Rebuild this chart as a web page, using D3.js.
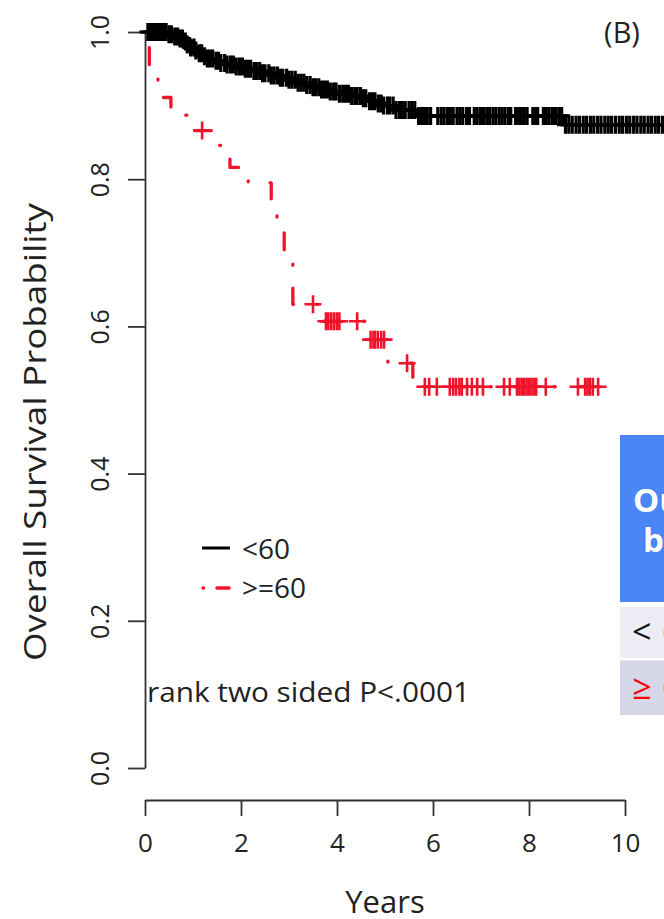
<!DOCTYPE html>
<html>
<head>
<meta charset="utf-8">
<script src="https://cdn.jsdelivr.net/npm/d3@7/dist/d3.min.js"></script>
<style>
  body { margin: 0; background: #fff; }
  svg { display: block; }
  text { font-family: "Open Sans", "Noto Sans", sans-serif; }
</style>
</head>
<body>
<script>
// Kaplan-Meier overall survival, split by age at diagnosis
const groupLabels = ["<60", ">=60"];

// <60 group: event times (years) and survival after each event
const youngTimes = [0.45, 0.62, 0.72, 0.8, 0.88, 0.95, 1.03, 1.12, 1.2, 1.3, 1.42, 1.55, 1.68, 1.85,
  2.05, 2.25, 2.45, 2.62, 2.8, 2.98, 3.15, 3.32, 3.5, 3.66, 3.84, 4.02, 4.3, 4.55, 4.68, 4.82,
  4.95, 5.18, 5.65, 8.7];
const youngSurv = [0.997, 0.994, 0.991, 0.987, 0.983, 0.979, 0.975, 0.971, 0.967, 0.964, 0.961,
  0.958, 0.956, 0.953, 0.950, 0.947, 0.944, 0.941, 0.938, 0.935, 0.931, 0.928, 0.925, 0.922,
  0.919, 0.916, 0.913, 0.910, 0.906, 0.903, 0.900, 0.894, 0.886, 0.874];
// <60 group: censoring times (years)
const youngCensor = [0.06, 0.1, 0.14, 0.19, 0.23, 0.27, 0.31, 0.36, 0.4, 0.44, 0.5, 0.55, 0.62,
  0.68, 0.73, 0.78, 0.84, 0.88, 0.95, 1.02, 1.06, 1.13, 1.18, 1.24, 1.3, 1.35, 1.41, 1.48, 1.53,
  1.58, 1.66, 1.71, 1.78, 1.84, 1.9, 1.97, 2.03, 2.09, 2.14, 2.2, 2.27, 2.32, 2.39, 2.45, 2.5,
  2.58, 2.63, 2.69, 2.76, 2.82, 2.87, 2.95, 3.0, 3.06, 3.13, 3.19, 3.25, 3.31, 3.37, 3.44, 3.5,
  3.55, 3.62, 3.68, 3.74, 3.8, 3.86, 3.93, 3.98, 4.05, 4.12, 4.18, 4.24, 4.3, 4.37, 4.42, 4.49,
  4.55, 4.6, 4.68, 4.74, 4.79, 4.86, 4.92, 4.97, 5.05, 5.1, 5.17, 5.23, 5.3, 5.36, 5.42, 5.5,
  5.56, 5.62, 5.7, 5.76, 5.82, 5.88, 5.95, 6.1, 6.17, 6.23, 6.3, 6.36, 6.42, 6.5, 6.56, 6.62,
  6.7, 6.76, 6.86, 6.92, 6.99, 7.05, 7.12, 7.18, 7.25, 7.31, 7.38, 7.44, 7.5, 7.57, 7.62, 7.72,
  7.78, 7.84, 7.9, 7.96, 8.08, 8.14, 8.18, 8.3, 8.36, 8.42, 8.49, 8.55, 8.62, 8.68, 8.76, 8.83,
  8.9, 8.98, 9.05, 9.13, 9.2, 9.28, 9.35, 9.43, 9.5, 9.58, 9.65, 9.72, 9.8, 9.88, 9.95, 10.03,
  10.1, 10.18, 10.25, 10.33, 10.4, 10.48, 10.55, 10.63, 10.7, 10.78];
const youngEnd = 10.85;

// >=60 group: event times (years) and survival after each event
const oldTimes = [0.09, 0.27, 0.33, 0.54, 0.83, 1.0, 1.52, 1.77, 2.15, 2.63, 2.75, 2.9, 3.08,
  3.67, 4.65, 5.06, 5.58];
const oldSurv = [0.946, 0.933, 0.911, 0.895, 0.887, 0.866, 0.846, 0.816, 0.795, 0.755, 0.747,
  0.690, 0.630, 0.607, 0.582, 0.550, 0.518];
// >=60 group: censoring times (years)
const oldCensor = [1.19, 3.5, 3.77, 3.82, 3.88, 3.94, 4.0, 4.05, 4.42, 4.7, 4.76, 4.79, 4.85,
  4.92, 4.98, 5.46, 5.83, 5.92, 6.08, 6.35, 6.42, 6.48, 6.55, 6.6, 6.71, 6.81, 6.92, 7.04, 7.48,
  7.6, 7.75, 7.8, 7.85, 7.9, 7.95, 8.0, 8.05, 8.1, 8.15, 8.35, 9.02, 9.17, 9.22, 9.27, 9.33, 9.44];
const oldEnd = 9.65;

const xTicks = [0, 2, 4, 6, 8, 10];
const yTicks = [0, 0.2, 0.4, 0.6, 0.8, 1.0];
const pPrefix = "Log-";
const pValueText = "rank two sided P<.0001";
const tableHeader = ["Outcome", "by age"];
const tableSigns = ["<", "\u2265"];
const tableAges = ["60 years", "60 years"];

const W = 664, H = 919;
const svg = d3.select("body").append("svg").attr("width", W).attr("height", H);

const x = d3.scaleLinear().domain([0, 10]).range([145, 625]);
const y = d3.scaleLinear().domain([0, 1]).range([768, 32]);

// Survival value in force at time t
function survAt(times, surv, t) {
  const i = d3.bisectRight(times, t);
  return i === 0 ? 1 : surv[i - 1];
}
function stepPoints(times, surv, end) {
  const pts = [[0, 1]];
  times.forEach((t, i) => pts.push([t, surv[i]]));
  pts.push([end, surv[surv.length - 1]]);
  return pts;
}
const line = d3.line().x(d => x(d[0])).y(d => y(d[1])).curve(d3.curveStepAfter);
const plus = "M-8.5,0H8.5M0,-9V9";

const red = "#f0142a";

// ---- axes ----
const yAxis = d3.axisLeft(y).tickValues(yTicks).tickSize(17).tickSizeOuter(0)
  .tickFormat(d3.format(".1f"));
const gy = svg.append("g").attr("transform", "translate(145,0)").call(yAxis);
gy.selectAll("path, line").attr("stroke", "#333").attr("stroke-width", 1.8);
gy.selectAll("text")
  .attr("x", 0).attr("y", 0).attr("dy", null)
  .attr("text-anchor", "middle")
  .attr("transform", "translate(-36,0) rotate(-90)")
  .attr("font-size", 25).attr("fill", "#222")
  .style("font-family", "'Open Sans', sans-serif");

const xAxis = d3.axisBottom(x).tickValues(xTicks).tickSize(16).tickSizeOuter(0)
  .tickFormat(d3.format("d"));
const gx = svg.append("g").attr("transform", "translate(0,800)").call(xAxis);
gx.selectAll("path, line").attr("stroke", "#333").attr("stroke-width", 1.8);
gx.selectAll("text").attr("y", 52).attr("dy", null)
  .attr("font-size", 26).attr("fill", "#222")
  .style("font-family", "'Open Sans', sans-serif");

svg.append("text").attr("x", 385).attr("y", 913).attr("text-anchor", "middle")
  .attr("font-size", 31).attr("fill", "#222").text("Years");

svg.append("text")
  .attr("transform", "translate(46,432) rotate(-90)")
  .attr("text-anchor", "middle").attr("font-size", 31).attr("fill", "#222")
  .attr("textLength", 458).attr("lengthAdjust", "spacingAndGlyphs")
  .text("Overall Survival Probability");

// ---- curves ----
const oldPts = stepPoints(oldTimes, oldSurv, oldEnd);
svg.append("path").attr("d", line(oldPts))
  .attr("fill", "none").attr("stroke", red).attr("stroke-width", 3.3)
  .attr("stroke-linecap", "round").attr("stroke-linejoin", "round")
  .attr("stroke-dasharray", "1,23,17,23").attr("stroke-dashoffset", 4);
svg.append("g").selectAll("path").data(oldCensor).join("path")
  .attr("transform", d => `translate(${x(d)},${y(survAt(oldTimes, oldSurv, d))})`)
  .attr("d", plus).attr("stroke", red).attr("stroke-width", 2.6).attr("fill", "none");

const youngPts = stepPoints(youngTimes, youngSurv, youngEnd);
svg.append("path").attr("d", line(youngPts))
  .attr("fill", "none").attr("stroke", "#000").attr("stroke-width", 3.2);
svg.append("g").selectAll("path").data(youngCensor).join("path")
  .attr("transform", d => `translate(${x(d)},${y(survAt(youngTimes, youngSurv, d))})`)
  .attr("d", plus).attr("stroke", "#000").attr("stroke-width", 3.2).attr("fill", "none");

// ---- legend ----
const legend = svg.append("g");
legend.append("line").attr("x1", 202).attr("x2", 230).attr("y1", 548).attr("y2", 548)
  .attr("stroke", "#000").attr("stroke-width", 3);
legend.append("line").attr("x1", 203).attr("x2", 230).attr("y1", 588).attr("y2", 588)
  .attr("stroke", red).attr("stroke-width", 3.4).attr("stroke-linecap", "round")
  .attr("stroke-dasharray", "0.5,13.5,12,40");
legend.selectAll("text.lab").data(groupLabels).join("text").attr("class", "lab")
  .attr("x", 242).attr("y", (d, i) => 559 + i * 39)
  .attr("font-size", 28).attr("fill", "#222").text(d => d);

// ---- p-value, clipped at the y axis ----
svg.append("clipPath").attr("id", "pclip").append("rect")
  .attr("x", 146.5).attr("y", 600).attr("width", 500).attr("height", 150);
const pText = svg.append("text").attr("clip-path", "url(#pclip)")
  .attr("y", 702).attr("font-size", 27).attr("fill", "#222");
pText.append("tspan").text(pPrefix);
pText.append("tspan").text(pValueText);
{
  // stretch so that the main part runs from the axis to x = 470
  const node = pText.node();
  const full = node.getComputedTextLength();
  const pre = node.getSubStringLength(0, pPrefix.length);
  const s = 323 / (full - pre);
  pText.attr("textLength", full * s).attr("lengthAdjust", "spacingAndGlyphs")
    .attr("x", 470 - full * s);
}

// ---- panel tag ----
svg.append("text").attr("x", 622).attr("y", 43).attr("text-anchor", "middle")
  .attr("font-size", 29).attr("fill", "#222").text("(B)");

// ---- summary table on the right ----
const table = svg.append("g");
table.append("rect").attr("x", 620).attr("y", 435).attr("width", 120).attr("height", 167)
  .attr("fill", "#4a86f6");
table.selectAll("text.hd").data(tableHeader).join("text").attr("class", "hd")
  .attr("x", (d, i) => i === 0 ? 633 : 643).attr("y", (d, i) => 512 + i * 40)
  .attr("font-size", 33).attr("font-weight", "bold").attr("fill", "#fff").text(d => d);
const rowFill = ["#ececf4", "#d6d6e9"];
const rowColor = ["#111", "#ff0000"];
tableSigns.forEach((sgn, i) => {
  const top = i === 0 ? 607 : 660.5;
  const h = i === 0 ? 51 : 54.5;
  table.append("rect").attr("x", 620).attr("y", top).attr("width", 120).attr("height", h)
    .attr("fill", rowFill[i]);
  const t = table.append("text").attr("y", top + h / 2 + 11)
    .attr("font-size", 34).attr("fill", rowColor[i]);
  t.append("tspan").attr("x", 632).text(sgn);
  t.append("tspan").attr("x", 662).text(tableAges[i]);
});
</script>
</body>
</html>
